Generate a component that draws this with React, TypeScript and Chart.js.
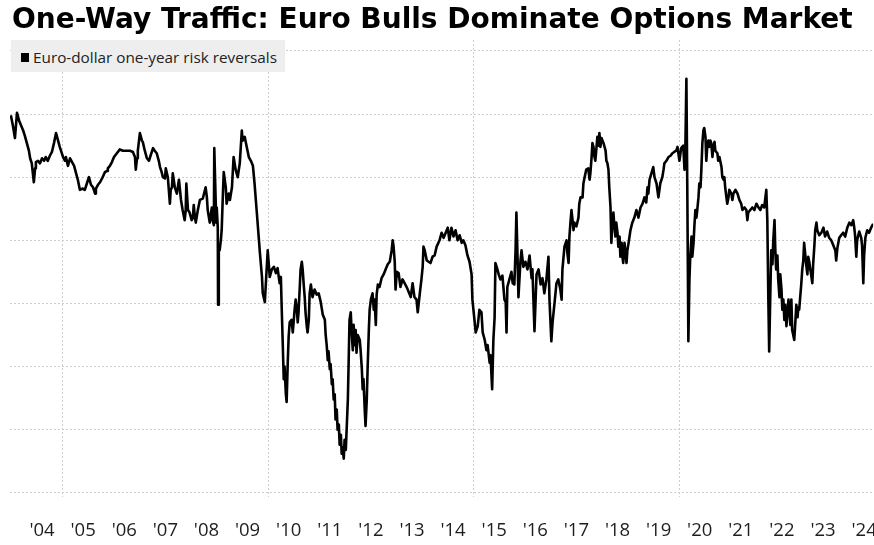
import React, { useEffect, useRef } from "react";
import { Chart, registerables } from "chart.js";

Chart.register(...registerables);

const TITLE = "One-Way Traffic: Euro Bulls Dominate Options Market";
const SERIES_LABEL = "Euro-dollar one-year risk reversals";

// x-axis: labels centred on each year, dotted gridlines at 5-year boundaries
const labelYears = [2004, 2005, 2006, 2007, 2008, 2009, 2010, 2011, 2012, 2013, 2014, 2015, 2016, 2017, 2018, 2019, 2020, 2021, 2022, 2023, 2024];
const yearLabels = ["'04", "'05", "'06", "'07", "'08", "'09", "'10", "'11", "'12", "'13", "'14", "'15", "'16", "'17", "'18", "'19", "'20", "'21", "'22", "'23", "'24"];
const gridYears = [2005, 2010, 2015, 2020];
const yGridValues = [-2.5, -2, -1.5, -1, -0.5, 0, 0.5, 1];

// decimal-year dates of the series
const dates = [
  2003.74, 2003.79, 2003.84, 2003.89, 2003.94, 2003.99, 2004.04, 2004.08, 2004.13, 2004.18, 2004.21, 2004.25, 2004.30, 2004.33, 2004.35, 2004.40, 2004.45, 2004.50, 2004.55, 2004.59, 2004.64, 2004.69, 2004.74, 2004.79, 2004.84, 2004.89, 2004.93, 2004.98,
  2005.01, 2005.06, 2005.08, 2005.13, 2005.18, 2005.23, 2005.28, 2005.32, 2005.37, 2005.42, 2005.49, 2005.54, 2005.59, 2005.64, 2005.69, 2005.74, 2005.79, 2005.81, 2005.86, 2005.91, 2005.96,
  2006.03, 2006.08, 2006.10, 2006.15, 2006.20, 2006.25, 2006.32, 2006.39, 2006.47, 2006.51, 2006.59, 2006.64, 2006.71, 2006.76, 2006.78, 2006.81, 2006.83, 2006.88, 2006.93, 2006.95,
  2007.00, 2007.05, 2007.10, 2007.12, 2007.17, 2007.20, 2007.24, 2007.29, 2007.34, 2007.37, 2007.41, 2007.44, 2007.49, 2007.51, 2007.56, 2007.61, 2007.63, 2007.66, 2007.68, 2007.73, 2007.78, 2007.83, 2007.88, 2007.92, 2007.97, 2007.995,
  2008.01, 2008.05, 2008.09, 2008.14, 2008.17, 2008.19, 2008.22, 2008.24, 2008.29, 2008.34, 2008.41, 2008.48, 2008.51, 2008.53, 2008.58, 2008.63, 2008.65, 2008.68, 2008.69, 2008.73, 2008.74, 2008.75, 2008.775, 2008.782, 2008.80, 2008.82, 2008.85, 2008.87, 2008.90, 2008.92, 2008.97, 2008.99,
  2009.04, 2009.07, 2009.12, 2009.16, 2009.21, 2009.26, 2009.31, 2009.36, 2009.38, 2009.43, 2009.48, 2009.53, 2009.58, 2009.63, 2009.67, 2009.72, 2009.77, 2009.80, 2009.85, 2009.87, 2009.92, 2009.94, 2009.99,
  2010.04, 2010.09, 2010.14, 2010.19, 2010.23, 2010.28, 2010.31, 2010.33, 2010.355, 2010.38, 2010.40, 2010.43, 2010.45, 2010.48, 2010.50, 2010.525, 2010.57, 2010.60, 2010.65, 2010.67, 2010.70, 2010.72, 2010.74, 2010.77, 2010.79, 2010.82, 2010.84, 2010.87, 2010.89, 2010.91, 2010.94, 2010.96, 2010.99,
  2011.01, 2011.04, 2011.08, 2011.13, 2011.18, 2011.23, 2011.28, 2011.33, 2011.38, 2011.40, 2011.425, 2011.45, 2011.47, 2011.50, 2011.52, 2011.55, 2011.57, 2011.595, 2011.62, 2011.64, 2011.67, 2011.69, 2011.72, 2011.74, 2011.77, 2011.79, 2011.81, 2011.84, 2011.86, 2011.89, 2011.91, 2011.94, 2011.96, 2011.98,
  2012.01, 2012.03, 2012.06, 2012.08, 2012.105, 2012.13, 2012.15, 2012.18, 2012.23, 2012.25, 2012.28, 2012.30, 2012.32, 2012.35, 2012.37, 2012.40, 2012.42, 2012.45, 2012.47, 2012.50, 2012.54, 2012.57, 2012.59, 2012.62, 2012.64, 2012.67, 2012.71, 2012.76, 2012.81, 2012.86, 2012.91, 2012.96,
  2013.005, 2013.03, 2013.05, 2013.08, 2013.10, 2013.13, 2013.175, 2013.22, 2013.27, 2013.32, 2013.37, 2013.42, 2013.47, 2013.515, 2013.56, 2013.61, 2013.64, 2013.69, 2013.73, 2013.76, 2013.78, 2013.81, 2013.86, 2013.905, 2013.95,
  2014.00, 2014.05, 2014.10, 2014.17, 2014.22, 2014.27, 2014.32, 2014.37, 2014.41, 2014.46, 2014.51, 2014.56, 2014.61, 2014.66, 2014.71, 2014.75, 2014.80, 2014.85, 2014.90, 2014.95, 2014.97,
  2015.02, 2015.05, 2015.10, 2015.14, 2015.19, 2015.22, 2015.27, 2015.31, 2015.34, 2015.39, 2015.41, 2015.45, 2015.48, 2015.51, 2015.53, 2015.56, 2015.61, 2015.65, 2015.70, 2015.75, 2015.78, 2015.80, 2015.82, 2015.87, 2015.92, 2015.95, 2015.99,
  2016.02, 2016.04, 2016.07, 2016.09, 2016.14, 2016.165, 2016.21, 2016.26, 2016.31, 2016.36, 2016.41, 2016.43, 2016.48, 2016.53, 2016.58, 2016.63, 2016.675, 2016.72, 2016.77, 2016.82, 2016.845, 2016.89, 2016.92, 2016.97,
  2017.015, 2017.06, 2017.11, 2017.14, 2017.16, 2017.21, 2017.26, 2017.28, 2017.31, 2017.33, 2017.355, 2017.38, 2017.40, 2017.43, 2017.45, 2017.50, 2017.55, 2017.57, 2017.60, 2017.65, 2017.67, 2017.70, 2017.74, 2017.79, 2017.82, 2017.84, 2017.87, 2017.89, 2017.915, 2017.94, 2017.96, 2017.99,
  2018.01, 2018.04, 2018.06, 2018.085, 2018.11, 2018.16, 2018.21, 2018.23, 2018.255, 2018.28, 2018.30, 2018.33, 2018.35, 2018.38, 2018.40, 2018.425, 2018.45, 2018.47, 2018.50, 2018.52, 2018.55, 2018.57, 2018.60, 2018.62, 2018.64, 2018.67, 2018.69, 2018.72, 2018.74, 2018.77, 2018.815, 2018.86, 2018.91, 2018.96,
  2019.01, 2019.06, 2019.11, 2019.155, 2019.20, 2019.23, 2019.25, 2019.28, 2019.325, 2019.37, 2019.40, 2019.45, 2019.47, 2019.495, 2019.52, 2019.54, 2019.59, 2019.62, 2019.64, 2019.69, 2019.74, 2019.79, 2019.835, 2019.88, 2019.93, 2019.96,
  2020.006, 2020.05, 2020.10, 2020.13, 2020.15, 2020.176, 2020.20, 2020.224, 2020.25, 2020.27, 2020.30, 2020.32, 2020.35, 2020.37, 2020.395, 2020.42, 2020.44, 2020.47, 2020.49, 2020.52, 2020.54, 2020.565, 2020.59, 2020.61, 2020.64, 2020.66, 2020.69, 2020.71, 2020.735, 2020.76, 2020.78, 2020.81, 2020.83, 2020.86, 2020.88, 2020.93, 2020.95, 2020.98,
  2021.03, 2021.05, 2021.08, 2021.10, 2021.12, 2021.15, 2021.17, 2021.20, 2021.22, 2021.27, 2021.295, 2021.32, 2021.37, 2021.42, 2021.465, 2021.51, 2021.54, 2021.59, 2021.635, 2021.66, 2021.68, 2021.73, 2021.78, 2021.83, 2021.88, 2021.93, 2021.975,
  2022.02, 2022.07, 2022.12, 2022.145, 2022.17, 2022.19, 2022.22, 2022.24, 2022.27, 2022.29, 2022.32, 2022.34, 2022.36, 2022.39, 2022.41, 2022.44, 2022.46, 2022.49, 2022.51, 2022.535, 2022.56, 2022.58, 2022.61, 2022.63, 2022.66, 2022.68, 2022.705, 2022.73, 2022.75, 2022.80, 2022.83, 2022.85, 2022.88, 2022.90, 2022.92, 2022.95, 2022.97, 2022.995,
  2023.02, 2023.04, 2023.07, 2023.09, 2023.12, 2023.14, 2023.165, 2023.19, 2023.21, 2023.24, 2023.26, 2023.29, 2023.31, 2023.34, 2023.36, 2023.41, 2023.46, 2023.51, 2023.55, 2023.60, 2023.65, 2023.70, 2023.75, 2023.80, 2023.82, 2023.85, 2023.895, 2023.94, 2023.99,
  2024.04, 2024.09, 2024.14, 2024.19, 2024.235, 2024.26, 2024.28, 2024.31, 2024.33, 2024.38, 2024.43, 2024.45, 2024.48, 2024.50, 2024.53, 2024.575, 2024.62, 2024.67, 2024.72,
];

// one-year 25-delta risk reversal, vols
const values = [
  0.49, 0.41, 0.31, 0.51, 0.45, 0.41, 0.37, 0.33, 0.27, 0.21, 0.15, 0.11, -0.04, 0.07, 0.12, 0.13, 0.11, 0.15, 0.13, 0.16, 0.13, 0.17, 0.20, 0.27, 0.35, 0.29, 0.24, 0.19,
  0.16, 0.13, 0.16, 0.09, 0.15, 0.12, 0.09, 0.04, -0.02, -0.10, -0.09, -0.10, -0.05, 0, -0.06, -0.08, -0.13, -0.09, -0.06, -0.04, -0.01,
  0.04, 0.05, 0.07, 0.09, 0.12, 0.16, 0.19, 0.22, 0.21, 0.21, 0.21, 0.21, 0.20, 0.16, 0.06, 0.15, 0.21, 0.35, 0.29, 0.28,
  0.21, 0.15, 0.13, 0.15, 0.20, 0.23, 0.21, 0.19, 0.13, 0.08, 0.04, 0, -0.01, 0.07, 0, -0.21, -0.10, -0.08, 0.03, -0.08, -0.13, -0.02, -0.18, -0.26, -0.34, -0.26,
  -0.05, -0.26, -0.28, -0.34, -0.32, -0.22, -0.32, -0.36, -0.26, -0.18, -0.17, -0.08, -0.16, -0.26, -0.36, -0.24, -0.34, -0.38, 0.23, -0.26, -0.36, -0.24, -0.40, -1.01, -0.58, -0.58, -0.50, -0.42, -0.13, 0.04, -0.08, -0.21,
  -0.13, -0.18, -0.08, 0.16, 0.06, 0, 0.11, 0.37, 0.29, 0.32, 0.24, 0.16, 0.13, 0.09, -0.05, -0.26, -0.47, -0.60, -0.79, -0.92, -0.99, -0.87, -0.58,
  -0.79, -0.73, -0.71, -0.76, -0.72, -0.84, -0.79, -1.03, -1.31, -1.60, -1.50, -1.71, -1.78, -1.44, -1.26, -1.15, -1.13, -1.23, -1.03, -0.97, -1.05, -1.15, -1.07, -0.87, -0.73, -0.67, -0.73, -0.87, -0.95, -1.07, -1.18, -1.23, -1.13,
  -0.92, -0.85, -0.95, -0.89, -0.93, -0.92, -0.99, -1.09, -1.13, -1.25, -1.33, -1.45, -1.38, -1.52, -1.48, -1.64, -1.60, -1.76, -1.72, -1.92, -1.84, -2.00, -1.96, -2.12, -2.04, -2.19, -2.14, -2.23, -2.08, -2.16, -2.00, -1.76, -1.45, -1.13,
  -1.07, -1.21, -1.37, -1.17, -1.33, -1.21, -1.39, -1.25, -1.29, -1.37, -1.52, -1.68, -1.60, -1.84, -1.97, -1.76, -1.52, -1.21, -1.05, -0.97, -0.92, -1.05, -0.97, -1.17, -0.93, -0.85, -0.87, -0.80, -0.77, -0.73, -0.69, -0.67,
  -0.58, -0.50, -0.54, -0.67, -0.89, -0.75, -0.76, -0.87, -0.81, -0.84, -0.87, -0.91, -0.95, -0.84, -0.95, -0.97, -1.07, -0.92, -0.81, -0.71, -0.55, -0.58, -0.66, -0.67, -0.68,
  -0.63, -0.62, -0.55, -0.50, -0.44, -0.48, -0.44, -0.40, -0.50, -0.40, -0.47, -0.42, -0.50, -0.46, -0.52, -0.50, -0.54, -0.62, -0.67, -0.77, -0.97,
  -1.13, -1.23, -1.18, -1.05, -1.07, -1.23, -1.29, -1.37, -1.33, -1.47, -1.41, -1.68, -1.29, -1.11, -0.68, -0.71, -0.77, -0.81, -0.78, -0.97, -0.99, -1.23, -0.87, -0.81, -0.75, -0.84, -0.85,
  -0.58, -0.28, -0.66, -0.95, -0.66, -0.58, -0.71, -0.67, -0.73, -0.62, -0.80, -0.73, -1.22, -0.77, -0.73, -0.85, -0.80, -0.92, -0.81, -0.63, -0.97, -1.30, -1.15, -0.99,
  -0.84, -0.81, -0.89, -0.97, -0.73, -0.55, -0.50, -0.60, -0.68, -0.47, -0.36, -0.26, -0.32, -0.42, -0.36, -0.39, -0.32, -0.21, -0.16, -0.16, -0.05, 0, 0.06, 0.07, -0.02, 0.03, 0.16, 0.27, 0.24, 0.16, 0.13, 0.24,
  0.32, 0.25, 0.35, 0.24, 0.31, 0.27, 0.21, 0.13, 0.11, 0.06, -0.08, -0.24, -0.52, -0.34, -0.28, -0.39, -0.47, -0.36, -0.44, -0.55, -0.47, -0.63, -0.52, -0.63, -0.68, -0.52, -0.58, -0.68, -0.58, -0.52, -0.42, -0.36, -0.32, -0.26,
  -0.32, -0.24, -0.21, -0.16, -0.20, -0.08, -0.13, -0.02, 0.03, 0.08, 0, -0.05, -0.10, -0.16, -0.10, -0.05, 0, 0.06, 0.11, 0.13, 0.16, 0.17, 0.19, 0.20, 0.21, 0.24,
  0.13, 0.23, 0.25, 0.06, 0.21, 0.78, -0.18, -1.30, -0.81, -0.63, -0.47, -0.63, -0.52, -0.39, -0.26, -0.32, -0.26, -0.16, -0.05, -0.08, 0.06, 0.27, 0.37, 0.39, 0.32, 0.13, 0.27, 0.29, 0.24, 0.29, 0.27, 0.16, 0.24, 0.28, 0.21, 0.19, 0.13, 0.16,
  0.08, 0, -0.02, 0, -0.08, -0.16, -0.21, -0.16, -0.10, -0.13, -0.18, -0.13, -0.10, -0.13, -0.18, -0.21, -0.26, -0.24, -0.26, -0.34, -0.28, -0.26, -0.24, -0.26, -0.21, -0.24, -0.26,
  -0.22, -0.24, -0.10, -0.34, -0.97, -1.38, -0.89, -0.58, -0.69, -0.50, -0.34, -0.58, -0.73, -0.62, -0.81, -0.95, -0.77, -0.89, -1.05, -0.97, -1.13, -1.01, -1.18, -1.09, -0.97, -1.05, -1.17, -0.97, -1.21, -1.29, -1.13, -1.01, -1.11, -1.03, -1.05, -0.93, -0.85, -0.73,
  -0.66, -0.52, -0.62, -0.69, -0.77, -0.63, -0.67, -0.73, -0.77, -0.84, -0.69, -0.54, -0.42, -0.36, -0.42, -0.46, -0.44, -0.40, -0.47, -0.43, -0.48, -0.50, -0.54, -0.58, -0.66, -0.56, -0.48, -0.46, -0.44,
  -0.47, -0.40, -0.36, -0.38, -0.34, -0.40, -0.46, -0.63, -0.50, -0.43, -0.48, -0.54, -0.84, -0.62, -0.48, -0.42, -0.44, -0.40, -0.37,
];

const X_MIN = 2003.72;
const X_MAX = 2024.72;
const Y_MIN = -2.532;
const Y_MAX = 1.087;

const GRID = "#cdcdcd";
const LABEL_FONT = '"Open Sans", "Noto Sans", sans-serif';

export default function App() {
  const canvasRef = useRef<HTMLCanvasElement | null>(null);

  useEffect(() => {
    document.body.style.margin = "0";
    const canvas = canvasRef.current;
    if (!canvas) return;
    const points = dates.map((d, i) => ({ x: d, y: values[i] }));
    const chart = new Chart(canvas, {
      type: "line",
      data: {
        datasets: [
          {
            label: SERIES_LABEL,
            data: points,
            borderColor: "#000000",
            backgroundColor: "#000000",
            borderWidth: 2.6,
            pointRadius: 0,
            tension: 0,
            fill: false,
            borderJoinStyle: "round",
          },
        ],
      },
      options: {
        animation: false,
        responsive: false,
        events: [],
        layout: { padding: { left: 10, right: 26, top: 40, bottom: 0 } },
        plugins: {
          legend: { display: false },
          title: { display: false },
          tooltip: { enabled: false },
        },
        scales: {
          x: {
            type: "linear",
            min: X_MIN,
            max: X_MAX,
            afterBuildTicks: (scale: any) => {
              const vals = [...gridYears, ...labelYears.map((y) => y + 0.5)].sort((a, b) => a - b);
              scale.ticks = vals.map((v) => ({ value: v }));
            },
            ticks: {
              autoSkip: false,
              maxRotation: 0,
              minRotation: 0,
              padding: 23,
              color: "#1e1e1e",
              font: { family: LABEL_FONT, size: 18.5 },
              callback: (value: any) => {
                const v = Number(value);
                if (Number.isInteger(v)) return "";
                const idx = labelYears.indexOf(Math.floor(v));
                return idx >= 0 ? yearLabels[idx] : "";
              },
            },
            grid: {
              drawTicks: false,
              lineWidth: 1,
              color: (ctx: any) =>
                ctx.tick && gridYears.includes(ctx.tick.value) ? GRID : "rgba(0,0,0,0)",
            },
            border: { display: false, dash: [2, 2] },
          },
          y: {
            type: "linear",
            min: Y_MIN,
            max: Y_MAX,
            afterBuildTicks: (scale: any) => {
              scale.ticks = yGridValues.map((v) => ({ value: v }));
            },
            ticks: { display: false },
            grid: { drawTicks: false, color: GRID, lineWidth: 1 },
            border: { display: false, dash: [2, 2] },
          },
        },
      },
    });
    return () => chart.destroy();
  }, []);

  return (
    <div
      style={{
        position: "absolute",
        left: 0,
        top: 0,
        width: 874,
        height: 545,
        overflow: "hidden",
        background: "#ffffff",
      }}
    >
      <canvas
        ref={canvasRef}
        width={900}
        height={565}
        style={{ position: "absolute", left: 0, top: 0, width: 900, height: 565 }}
      />
      <div
        style={{
          position: "absolute",
          left: 12,
          top: 3,
          font: 'bold 28px "DejaVu Sans", sans-serif',
          lineHeight: "32px",
          color: "#000000",
          whiteSpace: "nowrap",
        }}
      >
        {TITLE}
      </div>
      <div
        style={{
          position: "absolute",
          left: 11,
          top: 40,
          width: 274,
          height: 32,
          background: "#eeeeee",
        }}
      />
      <div
        style={{
          position: "absolute",
          left: 21,
          top: 53,
          width: 8,
          height: 9,
          background: "#000000",
        }}
      />
      <div
        style={{
          position: "absolute",
          left: 33,
          top: 47,
          font: '15.3px "Open Sans", "Noto Sans", sans-serif',
          lineHeight: "20px",
          color: "#222222",
          whiteSpace: "nowrap",
        }}
      >
        {SERIES_LABEL}
      </div>
    </div>
  );
}
